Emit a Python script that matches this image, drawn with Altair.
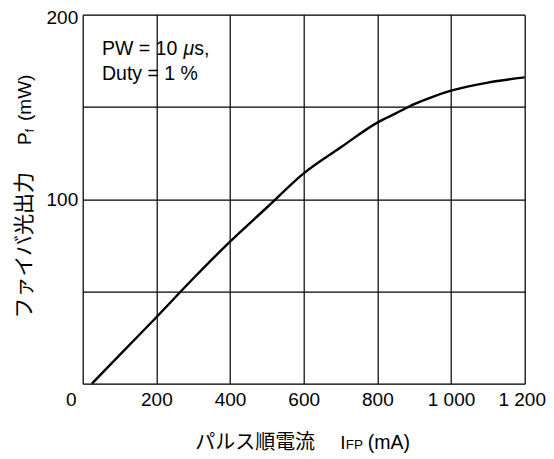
import altair as alt
import pandas as pd

# Data
current_ma = [25, 100, 200, 300, 400, 500, 600, 700, 800, 850, 900, 950, 1000, 1100, 1200]
power_mw = [0, 15.5, 36, 57, 77, 95.5, 114, 128, 141.5, 146.5, 151.5, 155.5, 158.8, 163.2, 166]
x_ticks = [0, 200, 400, 600, 800, 1000, 1200]
y_ticks = [0, 50, 100, 150, 200]
y_labelled = [100, 200]

LATIN = "Liberation Sans, Arial, Helvetica, sans-serif"
CJK = "Noto Sans CJK JP, sans-serif"

W, H = 442, 369

df = pd.DataFrame({"I": current_ma, "P": power_mw})

x_axis = alt.Axis(
    values=x_ticks,
    grid=True,
    gridColor="black",
    gridWidth=1.2,
    gridOpacity=1,
    ticks=False,
    domain=False,
    title=None,
    labelFont=LATIN,
    labelFontSize=19,
    labelColor="black",
    labelPadding=7,
    labelFlush=False,
    labelOverlap=False,
    labelExpr="datum.value >= 1000 ? replace(format(datum.value, ','), ',', ' ') : format(datum.value, 'd')",
    labelOffset={
        "condition": [
            {"test": "datum.value == 0", "value": -12},
            {"test": "datum.value == 1200", "value": -3},
        ],
        "value": 0,
    },
)

y_axis = alt.Axis(
    values=y_ticks,
    grid=True,
    gridColor="black",
    gridWidth=1.2,
    gridOpacity=1,
    ticks=False,
    domain=False,
    title=None,
    labelFont=LATIN,
    labelFontSize=19,
    labelColor="black",
    labelPadding=5,
    labelFlush=False,
    labelExpr="indexof(%s, datum.value) >= 0 ? format(datum.value, 'd') : ''" % str(y_labelled),
    labelOffset={"condition": {"test": "datum.value == 200", "value": 3}, "value": 0},
)

line = alt.Chart(df).mark_line(color="black", strokeWidth=2.4, interpolate="monotone").encode(
    x=alt.X("I:Q", scale=alt.Scale(domain=[0, 1200], nice=False), axis=x_axis),
    y=alt.Y("P:Q", scale=alt.Scale(domain=[0, 200], nice=False), axis=y_axis),
)


def txt(s, x, y, size=19, font=LATIN, angle=0, align="left", style="normal"):
    kw = dict(font=font, fontSize=size, color="black", align=align, baseline="alphabetic",
              fontStyle=style)
    if angle:
        kw["angle"] = angle
    return alt.Chart(pd.DataFrame({"t": [s]})).mark_text(**kw).encode(
        x=alt.value(x), y=alt.value(y), text="t:N"
    )


# condition box text
ann = [
    txt("PW = 10", 19.3, 40.5, size=19.5),
    txt("\u03bc", 100.8, 40.5, size=19.5, style="italic"),
    txt("s,", 111.5, 40.5, size=19.5),
    txt("Duty = 1 %", 19.3, 65.5, size=19.5),
]

# x-axis title (with subscript-like FP)
xt = [
    txt("パルス順電流", 112.5, 434.0, size=20, font=CJK),
    txt("I", 257.5, 434.0, size=19),
    txt("FP", 263.0, 434.0, size=13.5),
    txt("(mA)", 285.0, 434.0, size=19.5),
]

# y-axis title (rotated)
yt = [
    txt("ファイバ光出力", -52, 303.8, size=21, font=CJK, angle=270),
    txt("P", -52, 130.3, size=19, angle=270),
    txt("f", -48.5, 117.5, size=12, angle=270),
    txt("(mW)", -52, 106.3, size=19, angle=270),
]

chart = alt.layer(line, *ann, *xt, *yt).properties(
    width=W,
    height=H,
    autosize=alt.AutoSizeParams(type="none"),
    padding={"left": 74.7, "top": 6.7, "right": 21.3, "bottom": 75},
).configure_view(stroke="black", strokeWidth=2.4).configure(background="white")

chart.save("out.html", embed_options={"renderer": "svg", "actions": False})
